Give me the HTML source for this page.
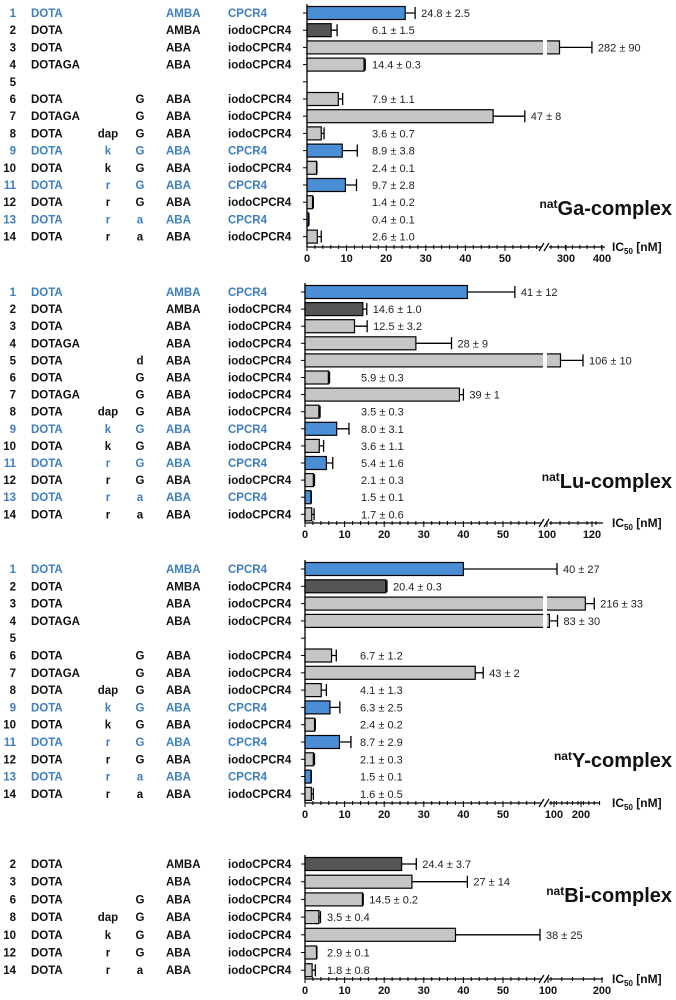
<!DOCTYPE html>
<html><head><meta charset="utf-8">
<style>
html,body{margin:0;padding:0;background:#fff;}
svg{display:block;font-family:"Liberation Sans",Arial,sans-serif;}
</style></head>
<body>
<svg id="chart" width="676" height="1000" viewBox="0 0 676 1000"></svg>
<script>
// ---- data ----
const gaNums=[1,2,3,4,5,6,7,8,9,10,11,12,13,14];
const gaChel=["DOTA","DOTA","DOTA","DOTAGA","","DOTA","DOTAGA","DOTA","DOTA","DOTA","DOTA","DOTA","DOTA","DOTA"];
const gaAa1=["","","","","","","","dap","k","k","r","r","r","r"];
const gaAa2=["","","","","","G","G","G","G","G","G","G","a","a"];
const gaLink=["AMBA","AMBA","ABA","ABA","","ABA","ABA","ABA","ABA","ABA","ABA","ABA","ABA","ABA"];
const gaPep=["CPCR4","iodoCPCR4","iodoCPCR4","iodoCPCR4","","iodoCPCR4","iodoCPCR4","iodoCPCR4","CPCR4","iodoCPCR4","CPCR4","iodoCPCR4","CPCR4","iodoCPCR4"];
const gaVals=[24.8,6.1,282,14.4,null,7.9,47,3.6,8.9,2.4,9.7,1.4,0.4,2.6];
const gaErrs=[2.5,1.5,90,0.3,null,1.1,8,0.7,3.8,0.1,2.8,0.2,0.1,1.0];
const gaLabels=["24.8 ± 2.5","6.1 ± 1.5","282 ± 90","14.4 ± 0.3","","7.9 ± 1.1","47 ± 8","3.6 ± 0.7","8.9 ± 3.8","2.4 ± 0.1","9.7 ± 2.8","1.4 ± 0.2","0.4 ± 0.1","2.6 ± 1.0"];

const luNums=[1,2,3,4,5,6,7,8,9,10,11,12,13,14];
const luChel=["DOTA","DOTA","DOTA","DOTAGA","DOTA","DOTA","DOTAGA","DOTA","DOTA","DOTA","DOTA","DOTA","DOTA","DOTA"];
const luAa1=["","","","","","","","dap","k","k","r","r","r","r"];
const luAa2=["","","","","d","G","G","G","G","G","G","G","a","a"];
const luLink=["AMBA","AMBA","ABA","ABA","ABA","ABA","ABA","ABA","ABA","ABA","ABA","ABA","ABA","ABA"];
const luPep=["CPCR4","iodoCPCR4","iodoCPCR4","iodoCPCR4","iodoCPCR4","iodoCPCR4","iodoCPCR4","iodoCPCR4","CPCR4","iodoCPCR4","CPCR4","iodoCPCR4","CPCR4","iodoCPCR4"];
const luVals=[41,14.6,12.5,28,106,5.9,39,3.5,8.0,3.6,5.4,2.1,1.5,1.7];
const luErrs=[12,1.0,3.2,9,10,0.3,1,0.3,3.1,1.1,1.6,0.3,0.1,0.6];
const luLabels=["41 ± 12","14.6 ± 1.0","12.5 ± 3.2","28 ± 9","106 ± 10","5.9 ± 0.3","39 ± 1","3.5 ± 0.3","8.0 ± 3.1","3.6 ± 1.1","5.4 ± 1.6","2.1 ± 0.3","1.5 ± 0.1","1.7 ± 0.6"];

const yVals=[40,20.4,216,83,null,6.7,43,4.1,6.3,2.4,8.7,2.1,1.5,1.6];
const yErrs=[27,0.3,33,30,null,1.2,2,1.3,2.5,0.2,2.9,0.3,0.1,0.5];
const yLabels=["40 ± 27","20.4 ± 0.3","216 ± 33","83 ± 30","","6.7 ± 1.2","43 ± 2","4.1 ± 1.3","6.3 ± 2.5","2.4 ± 0.2","8.7 ± 2.9","2.1 ± 0.3","1.5 ± 0.1","1.6 ± 0.5"];

const biNums=[2,3,6,8,10,12,14];
const biChel=["DOTA","DOTA","DOTA","DOTA","DOTA","DOTA","DOTA"];
const biAa1=["","","","dap","k","r","r"];
const biAa2=["","","G","G","G","G","a"];
const biLink=["AMBA","ABA","ABA","ABA","ABA","ABA","ABA"];
const biPep=["iodoCPCR4","iodoCPCR4","iodoCPCR4","iodoCPCR4","iodoCPCR4","iodoCPCR4","iodoCPCR4"];
const biVals=[24.4,27,14.5,3.5,38,2.9,1.8];
const biErrs=[3.7,14,0.2,0.4,25,0.1,0.8];
const biLabels=["24.4 ± 3.7","27 ± 14","14.5 ± 0.2","3.5 ± 0.4","38 ± 25","2.9 ± 0.1","1.8 ± 0.8"];

const linTicks=[0,10,20,30,40,50];
const gaPostTicks=[300,400];
const luPostTicks=[100,120];
const yPostTicks=[100,200];
const biPostTicks=[100,200];

// ---- drawing ----
const NS="http://www.w3.org/2000/svg";
const svg=document.getElementById('chart');
function mk(tag,attrs,parent){const e=document.createElementNS(NS,tag);for(const k in attrs)e.setAttribute(k,attrs[k]);(parent||svg).appendChild(e);return e;}
const BLUE="#4a8fd6",BLUET="#3d7fbf",DARK="#555555",GRAY="#c6c6c6";

function panel(cfg){
  const g=mk('g',{});
  
  
  const x0=cfg.x0,sc=3.96,brk=543;
  const [t1,t2]=cfg.post,[p1,p2]=cfg.postPos;
  function X(v){ if(v<=60) return x0+v*sc; return p1+(v-t1)*(p2-p1)/(t2-t1);}
  const n=cfg.nums.length;
  const rowY=i=>cfg.y0+i*cfg.dy;
  const axY=cfg.axisY;
  // y axis line
  const ya=mk('line',{x1:x0,x2:x0,y1:rowY(0)-9,y2:axY,stroke:'#000','stroke-width':1.3},g);
  
  
  for(let i=0;i<n;i++){
    const y=rowY(i);
    const blue=cfg.pep[i]==="CPCR4";
    const col=blue?BLUET:'#111';
    const row=mk('g',{},g);
    
    
    mk('line',{x1:x0-4,x2:x0,y1:y,y2:y,stroke:'#000','stroke-width':1},row);
    const cols=[[16,'end',String(cfg.nums[i])],[31,'start',cfg.chel[i]],[108,'middle',cfg.aa1[i]],[140,'middle',cfg.aa2[i]],[166,'start',cfg.link[i]],[228,'start',cfg.pep[i]]];
    cols.forEach(c=>{ if(!c[2])return; const t=mk('text',{x:c[0],y:y+4,'text-anchor':c[1],'font-size':11.5,'font-weight':'bold',fill:col},row); t.textContent=c[2];});
    const v=cfg.vals[i]; if(v==null) continue;
    const e=cfg.errs[i];
    const fill=blue?BLUE:(cfg.nums[i]===2?DARK:GRAY);
    const xe=X(v);
    const bar=mk('rect',{x:x0,y:y-6.5,width:Math.max(xe-x0,1),height:13,fill:fill,stroke:'#000','stroke-width':1.2},row);
    
    
    if(v>60){ mk('rect',{x:brk,y:y-8,width:4,height:16,fill:'#fff'},row); }
    let xr=Math.min(X(v+e),cfg.clip||9999);
    if(v<=60 && v+e>60) xr=Math.min(x0+(v+e)*sc,cfg.errClip);
    const eb=mk('path',{d:`M${xe},${y}H${xr}M${xr},${y-6}V${y+6}`,stroke:'#000','stroke-width':1.3,fill:'none'},row);
    
    
    const lt=mk('text',{x:Math.max(xr+6,cfg.minLab),y:y+4,'font-size':11,fill:'#222'},row);
    lt.textContent=cfg.labels[i];
  }
  // x axis
  const end=cfg.axEnd;
  const xa=mk('path',{d:`M${x0},${axY}H${brk-1}M${brk+6},${axY}H${end}`,stroke:'#000','stroke-width':1.3,fill:'none'},g);
  
  
  mk('path',{d:`M${brk-4},${axY+4}L${brk+1},${axY-4}M${brk+1},${axY+4}L${brk+6},${axY-4}`,stroke:'#000','stroke-width':1.2},g);
  for(let v=0;v<=58;v+=2){ const x=x0+v*sc; const maj=v%10===0; mk('line',{x1:x,x2:x,y1:axY-2,y2:axY+(maj?4:2),stroke:'#000','stroke-width':1},g);}
  linTicks.forEach(v=>{const t=mk('text',{x:x0+v*sc,y:axY+15,'text-anchor':'middle','font-size':11,'font-weight':'bold',fill:'#111'},g); t.textContent=v;});
  const step=(p2-p1)/5;
  for(let x=brk+8;x<=end;x+=step/1.0){ mk('line',{x1:x,x2:x,y1:axY-2,y2:axY+2,stroke:'#000','stroke-width':1},g);}
  cfg.post.forEach((v,k)=>{const x=cfg.postPos[k]; mk('line',{x1:x,x2:x,y1:axY-2,y2:axY+4,stroke:'#000','stroke-width':1},g); const t=mk('text',{x:x,y:axY+15,'text-anchor':'middle','font-size':11,'font-weight':'bold',fill:'#111'},g); t.textContent=v;});
  const ic=mk('text',{x:612,y:axY+4,'font-size':12,'font-weight':'bold',fill:'#111'},g);
  
  
  ic.innerHTML='IC<tspan font-size="8" dy="3">50</tspan><tspan dy="-3"> [nM]</tspan>';
  const tt=mk('text',{x:672,y:cfg.titleY,'text-anchor':'end','font-size':20,'font-weight':'bold',fill:'#111'},g);
  
  
  tt.innerHTML='<tspan font-size="12" dy="-7">nat</tspan><tspan dy="7">'+cfg.title+'</tspan>';
}

panel({name:'ga-panel',nums:gaNums,chel:gaChel,aa1:gaAa1,aa2:gaAa2,link:gaLink,pep:gaPep,vals:gaVals,errs:gaErrs,labels:gaLabels,
  x0:307,y0:13,dy:17.2,axisY:247,post:gaPostTicks,postPos:[566,602],axEnd:605,minLab:372,errClip:560,titleY:215,title:'Ga-complex'});
panel({name:'lu-panel',nums:luNums,chel:luChel,aa1:luAa1,aa2:luAa2,link:luLink,pep:luPep,vals:luVals,errs:luErrs,labels:luLabels,
  x0:305,y0:292,dy:17.1,axisY:523,post:luPostTicks,postPos:[547,592],axEnd:603,minLab:361,errClip:560,titleY:488,title:'Lu-complex'});
panel({name:'y-panel',nums:gaNums,chel:gaChel,aa1:gaAa1,aa2:gaAa2,link:gaLink,pep:gaPep,vals:yVals,errs:yErrs,labels:yLabels,
  x0:305,y0:569,dy:17.3,axisY:803,post:yPostTicks,postPos:[554,581],axEnd:600,minLab:360,errClip:557,titleY:767,title:'Y-complex'});
panel({name:'bi-panel',nums:biNums,chel:biChel,aa1:biAa1,aa2:biAa2,link:biLink,pep:biPep,vals:biVals,errs:biErrs,labels:biLabels,
  x0:305,y0:864,dy:17.7,axisY:979,post:biPostTicks,postPos:[548,602],axEnd:603,minLab:327,errClip:540,titleY:902,title:'Bi-complex'});
</script>
</body></html>
